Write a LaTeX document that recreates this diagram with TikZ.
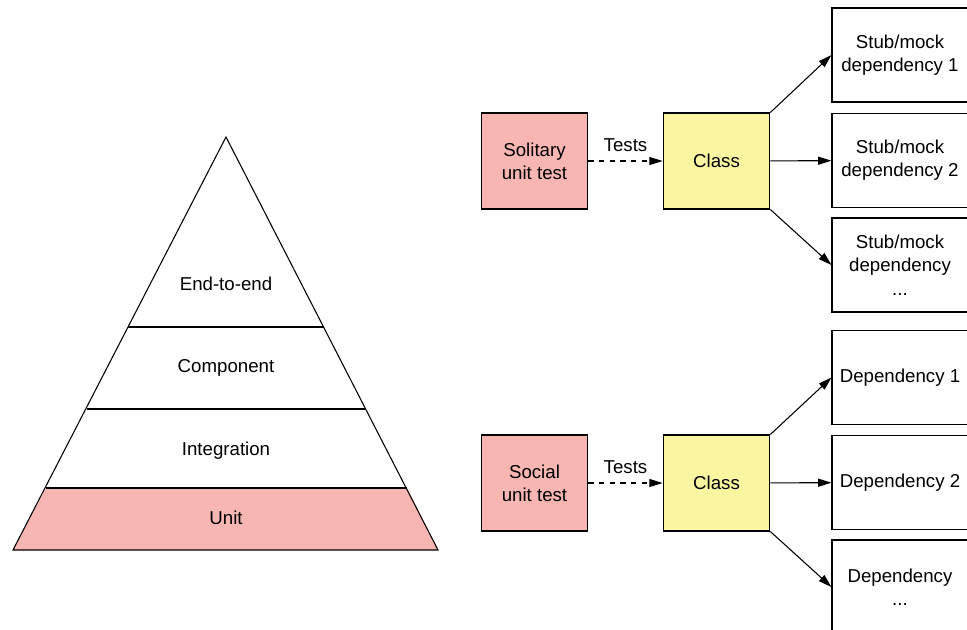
\documentclass[tikz,border=0pt]{standalone}
\usepackage{fontspec}
\setmainfont{Liberation Sans}
\usepackage{xcolor}
\usepackage{tikz}
\usetikzlibrary{arrows.meta, positioning}

\definecolor{testpink}{RGB}{248,182,178}
\definecolor{classyellow}{RGB}{249,245,160}

\tikzset{
  box/.style={draw, line width=0.8pt, minimum width=80pt, minimum height=72pt,
              align=center, font=\fontsize{14pt}{17.5pt}\selectfont},
  testbox/.style={box, fill=testpink},
  classbox/.style={box, fill=classyellow},
  depbox/.style={box, minimum width=102pt, minimum height=70.5pt},
  layer/.style={font=\fontsize{14pt}{17.5pt}\selectfont},
  arr/.style={line width=0.8pt, -{Triangle[length=10pt,width=6pt]}},
  testsarr/.style={arr, dash pattern=on 4pt off 4pt},
}

\begin{document}
\begin{tikzpicture}[x=0.75pt, y=-0.75pt]
\useasboundingbox (0,0) rectangle (967,629);
\clip (0,0) rectangle (967,629);

% pyramid
\coordinate (apex) at (226,137);
\coordinate (bl) at (13,550);
\coordinate (br) at (438,550);
\fill[testpink] (46,488) -- (407,488) -- (br) -- (bl) -- cycle;
\draw[line width=0.8pt] (apex) -- (br) -- (bl) -- cycle;
\draw[line width=0.8pt] (128,327) -- (324,327);
\draw[line width=0.8pt] (87,409) -- (365,409);
\draw[line width=0.8pt] (46,488) -- (407,488);
\node[layer] (e2e)  at (226,284) {End-to-end};
\node[layer] (comp) at (226,368) {Component};
\node[layer] (intg) at (226,451) {Integration};
\node[layer] (unit) at (226,518) {Unit};

% solitary
\node[testbox]  (sol)    at (534.5,161) {Solitary\\unit test};
\node[classbox] (classA) at (716.5,161) {Class};
\node[depbox]   (stubA)  at (900,55)    {Stub/mock\\dependency 1};
\node[depbox]   (stubB)  at (900,160.5) {Stub/mock\\dependency 2};
\node[depbox]   (stubC)  at (900,265)   {Stub/mock\\dependency\\...};
\draw[testsarr] (sol) -- node[above=3pt, layer] {Tests} (classA);
\draw[arr] (classA.north east) -- (stubA.west);
\draw[arr] (classA) -- (stubB);
\draw[arr] (classA.south east) -- (stubC.west);

% social
\node[testbox]  (soc)    at (534.5,483) {Social\\unit test};
\node[classbox] (classB) at (716.5,483) {Class};
\node[depbox]   (depA)   at (900,377.5) {Dependency 1};
\node[depbox]   (depB)   at (900,482.5) {Dependency 2};
\node[depbox]   (depC)   at (900,587)   {Dependency\\...};
\draw[testsarr] (soc) -- node[above=3pt, layer] {Tests} (classB);
\draw[arr] (classB.north east) -- (depA.west);
\draw[arr] (classB) -- (depB);
\draw[arr] (classB.south east) -- (depC.west);
\end{tikzpicture}
\end{document}
